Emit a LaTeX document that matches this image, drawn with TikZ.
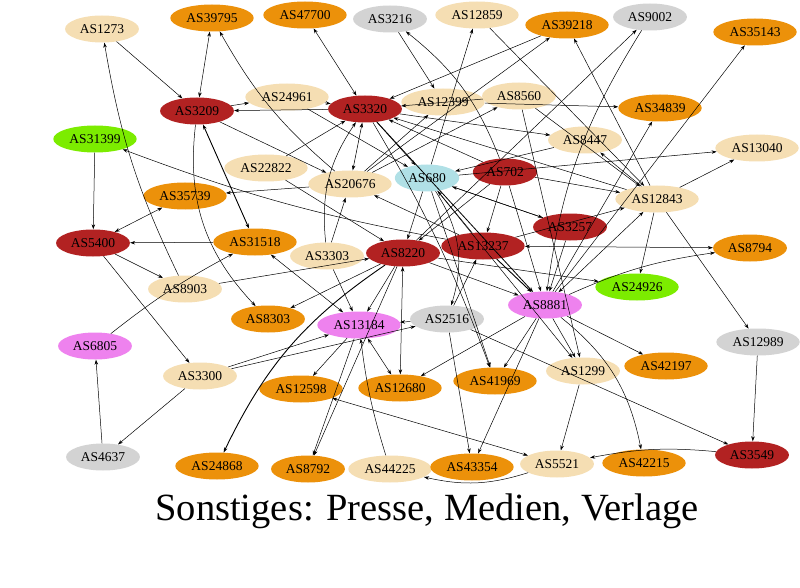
\documentclass[tikz,border=0pt]{standalone}
\usepackage{fontspec}
\setmainfont{Liberation Serif}
\usetikzlibrary{shapes.geometric,arrows.meta}
\definecolor{Brick}{RGB}{178,34,34}
\definecolor{Amber}{RGB}{236,145,10}
\definecolor{Wheat}{RGB}{245,222,179}
\definecolor{Silver}{RGB}{211,211,211}
\definecolor{Powder}{RGB}{176,224,230}
\definecolor{Lawn}{RGB}{124,236,0}
\definecolor{Orchid}{RGB}{238,130,238}

\begin{document}
\begin{tikzpicture}[x=1pt,y=-1pt,
    asn/.style={ellipse,draw=none,inner xsep=4pt,inner ysep=3pt,minimum height=27pt,font=\fontsize{13.5}{15}\selectfont},
    red/.style={asn,fill=Brick},
    org/.style={asn,fill=Amber},
    bei/.style={asn,fill=Wheat},
    gry/.style={asn,fill=Silver},
    blu/.style={asn,fill=Powder},
    grn/.style={asn,fill=Lawn},
    vio/.style={asn,fill=Orchid},
    arrow/.style={-{Stealth[length=5pt,width=3.5pt]},line width=0.5pt},
    both/.style={{Stealth[length=5pt,width=3.5pt]}-{Stealth[length=5pt,width=3.5pt]},line width=0.5pt}
]
\useasboundingbox (0,0) rectangle (800,588);

% top row
\node[bei] (as1273) at (102,29) {AS1273};
\node[org] (as39795) at (212,18) {AS39795};
\node[org] (as47700) at (305,15) {AS47700};
\node[gry] (as3216) at (390,19) {AS3216};
\node[bei] (as12859) at (477,15) {AS12859};
\node[org] (as39218) at (567,25) {AS39218};
\node[gry] (as9002) at (650,17) {AS9002};
\node[org] (as35143) at (755,32) {AS35143};

% upper middle
\node[red] (as3209) at (197,111) {AS3209};
\node[bei] (as24961) at (287,97) {AS24961};
\node[red] (as3320) at (365,109) {AS3320};
\node[bei] (as12399) at (443,102) {AS12399};
\node[bei] (as8560) at (519,96) {AS8560};
\node[org] (as34839) at (660,108) {AS34839};
\node[grn] (as31399) at (95,139) {AS31399};
\node[bei] (as8447) at (585,140) {AS8447};
\node[bei] (as13040) at (757,148) {AS13040};
\node[bei] (as22822) at (266,168) {AS22822};
\node[bei] (as20676) at (350,184) {AS20676};
\node[blu] (as680) at (427,178) {AS680};
\node[red] (as702) at (505,172) {AS702};
\node[org] (as35739) at (185,196) {AS35739};
\node[bei] (as12843) at (657,199) {AS12843};

% middle
\node[red] (as5400) at (93,243) {AS5400};
\node[org] (as31518) at (255,242) {AS31518};
\node[bei] (as3303) at (327,256) {AS3303};
\node[red] (as8220) at (403,253) {AS8220};
\node[red] (as13237) at (483,246) {AS13237};
\node[red] (as3257) at (570,227) {AS3257};
\node[org] (as8794) at (750,248) {AS8794};
\node[grn] (as24926) at (637,287) {AS24926};
\node[bei] (as8903) at (185,289) {AS8903};
\node[org] (as8303) at (268,319) {AS8303};
\node[vio] (as13184) at (359,325) {AS13184};
\node[gry] (as2516) at (447,319) {AS2516};
\node[vio] (as8881) at (545,305) {AS8881};
\node[vio] (as6805) at (95,346) {AS6805};
\node[gry] (as12989) at (758,342) {AS12989};

% lower rows
\node[bei] (as3300) at (200,376) {AS3300};
\node[org] (as12598) at (301,389) {AS12598};
\node[org] (as12680) at (400,388) {AS12680};
\node[org] (as41969) at (495,381) {AS41969};
\node[bei] (as1299) at (583,371) {AS1299};
\node[org] (as42197) at (666,366) {AS42197};
\node[gry] (as4637) at (103,457) {AS4637};
\node[org] (as24868) at (217,466) {AS24868};
\node[org] (as8792) at (308,469) {AS8792};
\node[bei] (as44225) at (390,469) {AS44225};
\node[org] (as43354) at (472,467) {AS43354};
\node[bei] (as5521) at (557,464) {AS5521};
\node[org] (as42215) at (644,463) {AS42215};
\node[red] (as3549) at (752,455) {AS3549};

\node[font=\fontsize{38.5}{44}\selectfont] (title) at (427,511) {Sonstiges: Presse, Medien, Verlage};

% left side
\draw[arrow] (as1273) -- (as3209);
\draw[arrow] (as8903) to[bend left=8] (as1273);
\draw[both] (as39795) -- (as3209);
\draw[arrow] (as20676) to[bend left=10] (as39795);
\draw[arrow] (as3209) -- (as24961);
\draw[arrow] (as3320) -- (as3209);
\draw[arrow] (as13237) to[bend left=5] (as31399);
\draw[arrow] (as31399) -- (as5400);
\draw[both,line width=0.9pt] (as3209) -- (as31518);
\draw[arrow] (as3209) to[bend right=25] (as8303);
\draw[both] (as35739) -- (as5400);
\draw[arrow] (as20676) -- (as35739);
\draw[arrow] (as31518) -- (as5400);
\draw[arrow] (as5400) -- (as8903);
\draw[arrow] (as5400) -- (as3300);
\draw[arrow] (as6805) to[bend left=5] (as31518);
\draw[arrow] (as8903) -- (as8220);
\draw[arrow] (as4637) -- (as6805);
\draw[arrow] (as3300) -- (as4637);
\draw[arrow] (as3300) -- (as2516);
\draw[arrow,line width=0.9pt] (as8220) to[bend right=15] (as24868);

% top
\draw[both] (as47700) -- (as3320);
\draw[arrow] (as3216) -- (as12399);
\draw[arrow] (as702) to[bend right=15] (as3216);
\draw[arrow] (as680) -- (as12859);
\draw[arrow] (as12859) -- (as12843);
\draw[arrow] (as39218) -- (as3320);
\draw[arrow] (as20676) -- (as39218);
\draw[arrow] (as12843) -- (as39218);
\draw[arrow] (as8220) -- (as9002);
\draw[arrow] (as9002) to[bend right=12] (as8881);
\draw[arrow] (as8881) -- (as35143);
\draw[arrow] (as12399) -- (as34839);
\draw[arrow] (as8881) -- (as34839);
\draw[arrow] (as12843) -- (as13040);
\draw[arrow] (as680) -- (as13040);

% around AS3320
\draw[arrow] (as24961) -- (as3320);
\draw[both] (as3320) -- (as20676);
\draw[arrow] (as3320) -- (as680);
\draw[arrow] (as702) -- (as3320);
\draw[arrow] (as12843) -- (as3320);
\draw[arrow] (as22822) -- (as3320);
\draw[arrow] (as3303) to[bend left=20] (as3320);
\draw[arrow,line width=0.8pt] (as3320) -- (as8881);
\draw[arrow] (as3320) to[bend left=5] (as41969);
\draw[arrow] (as8560) -- (as3320);
\draw[arrow] (as20676) -- (as12399);
\draw[arrow] (as24961) -- (as680);
\draw[arrow] (as3209) -- (as20676);
\draw[arrow] (as3320) -- (as8447);
\draw[arrow] (as8447) -- (as680);

% centre
\draw[arrow] (as3303) -- (as20676);
\draw[arrow] (as3303) -- (as13184);
\draw[both] (as31518) -- (as13184);
\draw[arrow] (as8220) -- (as8303);
\draw[arrow] (as8220) -- (as13184);
\draw[arrow] (as2516) -- (as13184);
\draw[arrow] (as2516) -- (as13237);
\draw[arrow] (as702) -- (as8220);
\draw[arrow] (as680) -- (as8220);
\draw[arrow] (as22822) -- (as8220);
\draw[arrow] (as13237) -- (as20676);
\draw[arrow] (as702) -- (as13237);
\draw[arrow] (as13237) -- (as680);
\draw[arrow] (as3257) -- (as680);
\draw[arrow] (as8220) -- (as8881);
\draw[arrow,line width=0.9pt] (as13237) -- (as8881);
\draw[both] (as8220) -- (as12680);
\draw[arrow] (as680) to[bend left=25] (as2516);
\draw[arrow] (as680) -- (as41969);
\draw[arrow] (as680) -- (as1299);
\draw[arrow] (as702) -- (as8881);
\draw[arrow] (as680) -- (as3257);
\draw[arrow] (as8220) -- (as24926);
\draw[arrow] (as13237) -- (as12843);
\draw[arrow] (as702) -- (as12843);
\draw[arrow] (as20676) -- (as8560);
\draw[arrow] (as8560) -- (as1299);
\draw[arrow] (as8560) -- (as12843);

% right side
\draw[arrow] (as12843) -- (as8447);
\draw[arrow] (as12843) -- (as24926);
\draw[arrow] (as12843) -- (as12989);
\draw[both] (as12843) -- (as8881);
\draw[both] (as13237) -- (as8794);
\draw[arrow] (as8881) to[bend left=8] (as8794);
\draw[arrow] (as3257) -- (as8881);

% bottom
\draw[arrow] (as13184) -- (as12598);
\draw[arrow] (as3300) -- (as13184);
\draw[arrow] (as13184) -- (as8792);
\draw[arrow] (as8220) -- (as8792);
\draw[arrow] (as44225) to[bend left=5] (as13184);
\draw[both] (as13184) -- (as12680);
\draw[arrow] (as8881) -- (as12680);
\draw[arrow] (as2516) -- (as43354);
\draw[arrow] (as8881) -- (as43354);
\draw[arrow] (as5521) to[bend left=15] (as44225);
\draw[both] (as12598) -- (as5521);
\draw[arrow] (as8881) -- (as41969);
\draw[arrow] (as8881) -- (as1299);
\draw[arrow] (as1299) -- (as5521);
\draw[arrow] (as8881) -- (as42197);
\draw[arrow] (as8881) to[bend left=20] (as42215);
\draw[arrow] (as2516) -- (as3549);
\draw[arrow] (as12989) -- (as3549);
\draw[arrow] (as3549) to[bend right=8] (as5521);

\end{tikzpicture}
\end{document}
